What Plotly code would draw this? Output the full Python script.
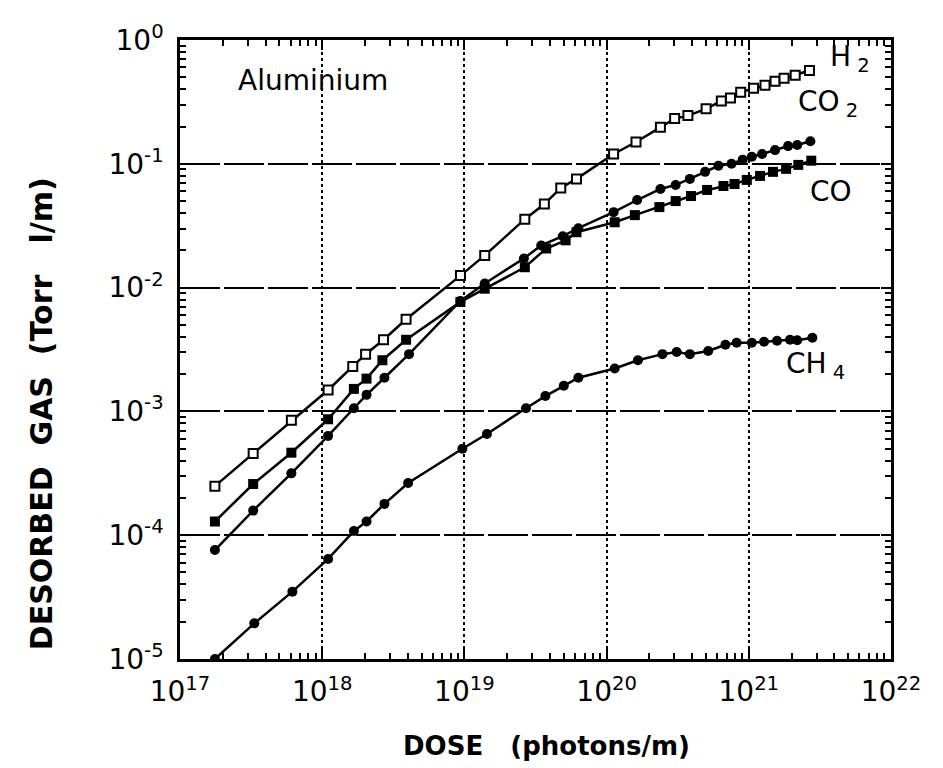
import plotly.graph_objects as go

# dose values (photons/m) and desorbed gas (Torr l/m)
h2_dose = [1.76e17, 3.27e17, 6.07e17, 1.10e18, 1.64e18, 2.02e18, 2.70e18, 3.89e18,
           9.38e18, 1.39e19, 2.66e19, 3.65e19, 4.76e19, 6.14e19, 1.12e20, 1.61e20,
           2.39e20, 3.01e20, 3.73e20, 5.01e20, 6.41e20, 7.43e20, 8.77e20, 1.08e21,
           1.30e21, 1.53e21, 1.77e21, 2.12e21, 2.67e21]
h2_gas = [2.49e-4, 4.56e-4, 8.49e-4, 1.49e-3, 2.31e-3, 2.90e-3, 3.79e-3, 5.55e-3,
          1.25e-2, 1.82e-2, 3.57e-2, 4.73e-2, 6.38e-2, 7.55e-2, 0.120, 0.150,
          0.197, 0.232, 0.245, 0.278, 0.322, 0.340, 0.379, 0.408,
          0.431, 0.464, 0.490, 0.518, 0.567]

co2_dose = [1.76e17, 3.27e17, 6.07e17, 1.10e18, 1.67e18, 2.05e18, 2.74e18, 4.08e18,
            9.38e18, 1.39e19, 2.62e19, 3.47e19, 4.92e19, 6.33e19, 1.12e20, 1.64e20,
            2.39e20, 3.06e20, 3.85e20, 4.93e20, 6.11e20, 7.56e20, 9.06e20, 1.05e21,
            1.24e21, 1.53e21, 1.89e21, 2.19e21, 2.71e21]
co2_gas = [7.59e-5, 1.58e-4, 3.16e-4, 6.34e-4, 1.06e-3, 1.36e-3, 1.87e-3, 2.90e-3,
           7.81e-3, 1.08e-2, 1.72e-2, 2.19e-2, 2.60e-2, 3.02e-2, 4.07e-2, 5.10e-2,
           6.26e-2, 6.75e-2, 7.55e-2, 8.61e-2, 9.64e-2, 0.100, 0.108, 0.114,
           0.120, 0.129, 0.139, 0.142, 0.152]

co_dose = [1.76e17, 3.27e17, 6.07e17, 1.10e18, 1.67e18, 2.05e18, 2.65e18, 3.89e18,
           9.38e18, 1.39e19, 2.66e19, 3.76e19, 5.15e19, 6.14e19, 1.14e20, 1.58e20,
           2.35e20, 3.06e20, 3.92e20, 5.09e20, 6.63e20, 7.94e20, 9.68e20, 1.20e21,
           1.48e21, 1.83e21, 2.23e21, 2.75e21]
co_gas = [1.29e-4, 2.59e-4, 4.64e-4, 8.64e-4, 1.52e-3, 1.84e-3, 2.59e-3, 3.79e-3,
          7.66e-3, 9.8e-3, 1.46e-2, 2.07e-2, 2.41e-2, 2.80e-2, 3.37e-2, 3.85e-2,
          4.47e-2, 5.0e-2, 5.49e-2, 6.15e-2, 6.62e-2, 6.87e-2, 7.41e-2, 7.98e-2,
          8.61e-2, 9.1e-2, 9.8e-2, 0.106]

ch4_dose = [1.76e17, 3.33e17, 6.17e17, 1.10e18, 1.67e18, 2.05e18, 2.74e18, 4.02e18,
            9.68e18, 1.44e19, 2.71e19, 3.71e19, 5.0e19, 6.33e19, 1.14e20, 1.66e20,
            2.47e20, 3.11e20, 3.85e20, 5.18e20, 6.85e20, 8.21e20, 1.05e21, 1.28e21,
            1.58e21, 1.95e21, 2.19e21, 2.80e21]
ch4_gas = [1.0e-5, 1.94e-5, 3.50e-5, 6.43e-5, 1.08e-4, 1.29e-4, 1.79e-4, 2.64e-4,
           4.99e-4, 6.57e-4, 1.06e-3, 1.33e-3, 1.61e-3, 1.87e-3, 2.22e-3, 2.59e-3,
           2.90e-3, 3.02e-3, 2.90e-3, 3.08e-3, 3.45e-3, 3.58e-3, 3.58e-3, 3.65e-3,
           3.72e-3, 3.79e-3, 3.76e-3, 3.94e-3]

x_ticks = [1e17, 1e18, 1e19, 1e20, 1e21, 1e22]
x_labels = ["10<sup>17</sup>", "10<sup>18</sup>", "10<sup>19</sup>",
            "10<sup>20</sup>", "10<sup>21</sup>", "10<sup>22</sup>"]
y_ticks = [1e-5, 1e-4, 1e-3, 1e-2, 1e-1, 1]
y_labels = ["10<sup>-5</sup>", "10<sup>-4</sup>", "10<sup>-3</sup>",
            "10<sup>-2</sup>", "10<sup>-1</sup>", "10<sup>0</sup>"]

# 2..9 minor ticks inside each decade
x_minor = [m * t for t in x_ticks[:-1] for m in range(2, 10)]
y_minor = [m * t for t in y_ticks[:-1] for m in range(2, 10)]

fig = go.Figure()

line = dict(color="black", width=2.5)
fig.add_trace(go.Scatter(x=h2_dose, y=h2_gas, mode="lines+markers", name="H2", line=line,
                         marker=dict(symbol="square", size=9, color="white",
                                     line=dict(color="black", width=2))))
fig.add_trace(go.Scatter(x=co2_dose, y=co2_gas, mode="lines+markers", name="CO2", line=line,
                         marker=dict(symbol="circle", size=10, color="black")))
fig.add_trace(go.Scatter(x=co_dose, y=co_gas, mode="lines+markers", name="CO", line=line,
                         marker=dict(symbol="square", size=10, color="black")))
fig.add_trace(go.Scatter(x=ch4_dose, y=ch4_gas, mode="lines+markers", name="CH4", line=line,
                         marker=dict(symbol="circle", size=10, color="black")))

tick_font = dict(family="DejaVu Sans", size=28, color="black")
axis_common = dict(type="log", showline=True, linecolor="black", linewidth=2.5,
                   mirror="allticks", ticks="inside", ticklen=10, tickwidth=2,
                   tickcolor="black", tickfont=tick_font, zeroline=False,
                   showgrid=True, gridcolor="black")
minor_common = dict(tickmode="array", ticks="inside", ticklen=6, tickwidth=1.5,
                    tickcolor="black", showgrid=False)

fig.update_xaxes(range=[17, 22], tickvals=x_ticks, ticktext=x_labels,
                 griddash="dot", gridwidth=1.5, ticklabelstandoff=6,
                 minor=dict(tickvals=x_minor, **minor_common), **axis_common)
fig.update_yaxes(range=[-5, 0], tickvals=y_ticks, ticktext=y_labels,
                 griddash="40px,4px", gridwidth=2, ticklabelstandoff=8,
                 minor=dict(tickvals=y_minor, **minor_common), **axis_common)

label_font = dict(family="DejaVu Sans", size=28, color="black")
notes = [
    ("Aluminium", 0.187, 0.935, "center"),
    ("H<sub>\u00a02</sub>", 0.912, 0.970, "left"),
    ("CO<sub>\u00a02</sub>", 0.867, 0.897, "left"),
    ("CO", 0.883, 0.755, "left"),
    ("CH<sub>\u00a04</sub>", 0.850, 0.474, "left"),
]
for text, x, y, anchor in notes:
    fig.add_annotation(text=text, x=x, y=y, xref="paper", yref="paper",
                       xanchor=anchor, yanchor="middle", showarrow=False, font=label_font)

fig.add_annotation(text="DOSE\u00a0\u00a0\u00a0(photons/m)", x=0.515, y=-0.168,
                   xref="paper", yref="paper", showarrow=False,
                   font=dict(family="DejaVu Sans", size=26, color="black", weight="bold"))
fig.add_annotation(text="DESORBED\u00a0\u00a0GAS\u00a0\u00a0(Torr\u00a0\u00a0\u00a0l/m)",
                   x=-0.221, y=0.396, xref="paper", yref="paper", textangle=-90,
                   showarrow=False,
                   font=dict(family="DejaVu Sans", size=30, color="black", weight="bold"))

fig.update_layout(width=943, height=768, showlegend=False,
                  plot_bgcolor="white", paper_bgcolor="white",
                  margin=dict(l=172, r=60, t=30, b=117))

fig.write_html("out.html")
